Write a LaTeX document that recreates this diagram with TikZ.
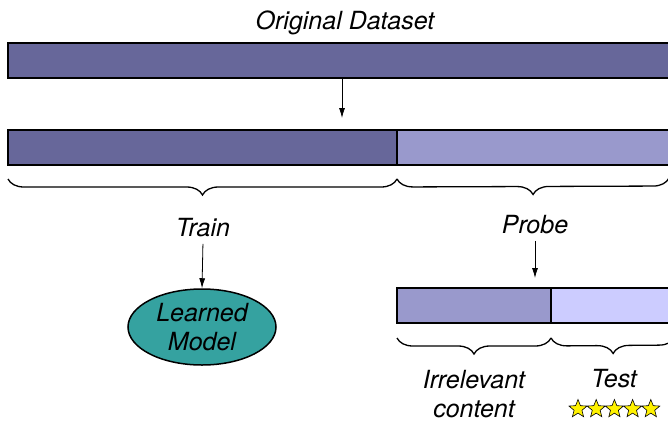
\documentclass[tikz,border=0pt]{standalone}
\usepackage{fontspec}
\setmainfont{TeX Gyre Heros}
\usetikzlibrary{arrows.meta,shapes.geometric,decorations.pathreplacing}
\definecolor{origcol}{HTML}{67679A}
\definecolor{probecol}{HTML}{9999CC}
\definecolor{testcol}{HTML}{CCCCFF}
\definecolor{modelcol}{HTML}{35A2A0}
\begin{document}
\begin{tikzpicture}[x=1pt,y=-1pt,
  lbl/.style={font=\fontsize{25}{29}\selectfont\itshape},
  bar/.style={draw,line width=1.5pt,rectangle,minimum height=35pt,anchor=north west,inner sep=0pt,outer sep=0pt},
  arr/.style={line width=0.8pt,-{Latex[length=10pt,width=6pt]}},
  brc/.style={decorate,decoration={brace,amplitude=16pt},line width=1.3pt},
  goldstar/.style={star,star points=5,star point ratio=2.3,fill=yellow,draw,line width=0.6pt,minimum size=19pt,inner sep=0pt}]
\useasboundingbox (0,0) rectangle (668,423);
\clip (0,0) rectangle (668,423);
% whole data set
\node[lbl] (title) at (345,23) {Original Dataset};
\node[bar,fill=origcol,minimum width=672pt] (orig) at (8,43) {};
\coordinate (splittip) at (342,118);
\draw[arr] (orig.south -| splittip) -- (splittip);
% train / probe split
\node[bar,fill=origcol,minimum width=389pt] (train) at (8,130) {};
\node[bar,fill=probecol,minimum width=290pt] (probe) at (train.north east) {};
\coordinate (probeend) at (669,178);
\draw[brc] ([yshift=-14pt]train.south east) -- ([yshift=-14pt]train.south west);
\draw[brc] (probeend) -- ([yshift=-14pt]probe.south west);
\node[lbl] (trainlbl) at (203,228) {Train};
\node[lbl] (probelbl) at (535,225) {Probe};
% model
\node[ellipse,draw,line width=1.5pt,fill=modelcol,minimum width=148pt,minimum height=76pt,lbl,align=center,inner sep=0pt] (model) at (202,327) {Learned\\Model};
\draw[arr,shorten <=3pt] (trainlbl.south) -- (model.north);
% probe split
\node[bar,fill=probecol,minimum width=154pt] (irr) at (397,288) {};
\node[bar,fill=testcol,minimum width=150pt] (test) at (irr.north east) {};
\coordinate (probetip) at (535,278);
\draw[arr,shorten <=3pt] (probelbl.south) -- (probetip);
\coordinate (testend) at (675,337);
\draw[brc] ([yshift=-15pt]irr.south east) -- ([yshift=-15pt]irr.south west);
\draw[brc] (testend) -- ([yshift=-15pt]test.south west);
\node[lbl,align=center,inner sep=0pt] (irrlbl) at (474,394) {Irrelevant\\content};
\node[lbl] (testlbl) at (614,379) {Test};
\foreach \i in {0,...,4}
  \node[goldstar] (star\i) at (578+18.2*\i,409) {};
\end{tikzpicture}
\end{document}
